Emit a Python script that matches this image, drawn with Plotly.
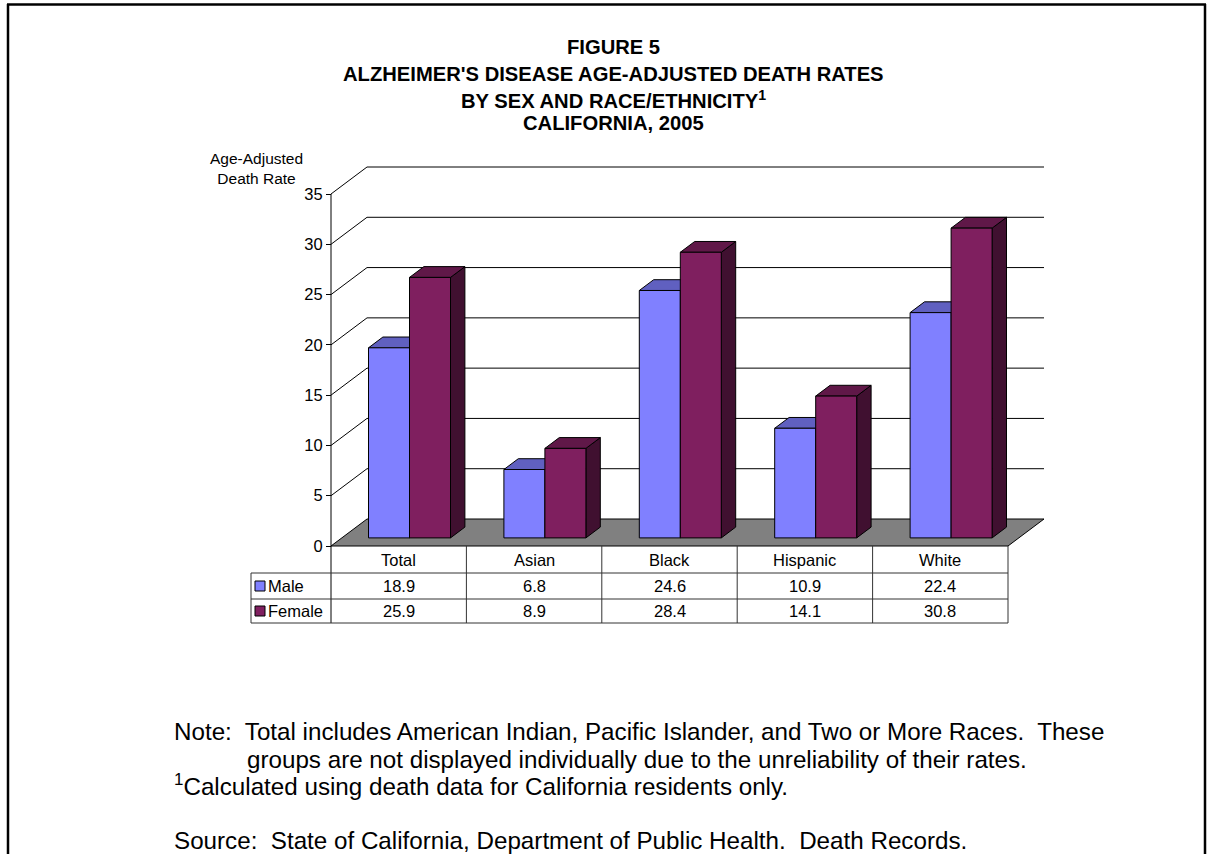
import plotly.graph_objects as go

# ---- data ----
categories = ["Total", "Asian", "Black", "Hispanic", "White"]
series_names = ["Male", "Female"]
male = [18.9, 6.8, 24.6, 10.9, 22.4]
female = [25.9, 8.9, 28.4, 14.1, 30.8]
y_ticks = [0, 5, 10, 15, 20, 25, 30, 35]

title_lines = [
    "FIGURE 5",
    "ALZHEIMER'S DISEASE AGE-ADJUSTED DEATH RATES",
    "BY SEX AND RACE/ETHNICITY<sup>1</sup>",
    "CALIFORNIA, 2005",
]
axis_title = "Age-Adjusted<br>Death Rate"
note_lines = [
    "Note:\u00a0 Total includes American Indian, Pacific Islander, and Two or More Races.\u00a0 These",
    "groups are not displayed individually due to the unreliability of their rates.",
    "<sup>1</sup>Calculated using death data for California residents only.",
    "Source:\u00a0 State of California, Department of Public Health.\u00a0 Death Records.",
]

# ---- colours ----
MALE_FRONT, MALE_TOP, MALE_SIDE = "#8080FF", "#6060C0", "#404080"
FEM_FRONT, FEM_TOP, FEM_SIDE = "#7F1F5F", "#601848", "#401030"
FLOOR = "#808080"
FONT = "Arial, Liberation Sans, sans-serif"

# ---- page geometry (pixels) ----
W, H = 1212, 854
X0_PX, X5_PX = 331, 1008      # front plane: category 0 .. 5
Y0_PX, Y35_PX = 546, 194      # front plane: value 0 .. 35
col_px = (X5_PX - X0_PX) / 5
unit_px = (Y0_PX - Y35_PX) / 35
x_range = [-X0_PX / col_px, (W - X0_PX) / col_px]
y_range = [(Y0_PX - H) / unit_px, Y0_PX / unit_px]

# oblique depth offset of the back wall, in data units
DX = 36 / col_px
DY = 27 / unit_px
BAR_W = 41 / col_px           # width of one bar
F0, F1 = 0.30, 0.70           # bar front / back depth fractions
N = len(categories)
VMAX = y_ticks[-1]

# table rows (in value units below zero)
ROW_PX = [27, 26, 24]
row_y = [0.0]
for r in ROW_PX:
    row_y.append(row_y[-1] - r / unit_px)
LEG_X = (251 - X0_PX) / col_px


def px_x(px):
    return px / W


def px_y(py):
    return 1 - py / H


def proj(x, v, d):
    return x + d * DX, v + d * DY


fig = go.Figure()


def poly(pts, fill, color="black", width=1):
    xs = [p[0] for p in pts] + [pts[0][0]]
    ys = [p[1] for p in pts] + [pts[0][1]]
    fig.add_trace(go.Scatter(
        x=xs, y=ys, mode="lines", fill="toself", fillcolor=fill,
        line=dict(color=color, width=width), hoverinfo="skip",
        showlegend=False))


def seg(pts, color="black", width=1):
    fig.add_trace(go.Scatter(
        x=[p[0] for p in pts], y=[p[1] for p in pts], mode="lines",
        line=dict(color=color, width=width), hoverinfo="skip",
        showlegend=False))


# back wall gridlines and left wall diagonals
for v in y_ticks[1:]:
    seg([proj(0, v, 0), proj(0, v, 1), proj(N, v, 1)])

# floor
poly([proj(0, 0, 0), proj(N, 0, 0), proj(N, 0, 1), proj(0, 0, 1)], FLOOR)

# front value axis line (continues down as the table's left border)
seg([(0, VMAX), (0, row_y[-1])])


def bar(xl, v, front, top, side):
    xr = xl + BAR_W
    poly([proj(xr, 0, F0), proj(xr, 0, F1), proj(xr, v, F1), proj(xr, v, F0)], side)
    poly([proj(xl, v, F0), proj(xr, v, F0), proj(xr, v, F1), proj(xl, v, F1)], top)
    poly([proj(xl, 0, F0), proj(xr, 0, F0), proj(xr, v, F0), proj(xl, v, F0)], front)


for i in range(N):
    c = i + 0.5
    bar(c - BAR_W, male[i], MALE_FRONT, MALE_TOP, MALE_SIDE)
    bar(c, female[i], FEM_FRONT, FEM_TOP, FEM_SIDE)

# ---- data table ----
TABLE_LINE = "#333333"
for k in range(1, len(row_y)):
    seg([(LEG_X, row_y[k]), (N, row_y[k])], TABLE_LINE)
for i in range(1, N + 1):
    seg([(i, 0), (i, row_y[-1])], TABLE_LINE)
seg([(LEG_X, row_y[1]), (LEG_X, row_y[-1])], TABLE_LINE)

annotations = []
tfont = dict(family=FONT, size=16.5, color="black")


def mid(k):
    return (row_y[k] + row_y[k + 1]) / 2


for i, cat in enumerate(categories):
    annotations.append(dict(x=i + 0.5, y=mid(0), xref="x", yref="y", text=cat,
                            showarrow=False, font=tfont, xanchor="center", yanchor="middle"))
for k, (name, vals, col) in enumerate([(series_names[0], male, MALE_FRONT),
                                        (series_names[1], female, FEM_FRONT)]):
    ym = mid(k + 1)
    for i, v in enumerate(vals):
        annotations.append(dict(x=i + 0.5, y=ym, xref="x", yref="y", text=f"{v:.1f}",
                                showarrow=False, font=tfont, xanchor="center", yanchor="middle"))
    fig.add_trace(go.Scatter(
        x=[(260 - X0_PX) / col_px], y=[ym], mode="markers",
        marker=dict(symbol="square", size=10, color=col, line=dict(color="black", width=1)),
        hoverinfo="skip", showlegend=False))
    annotations.append(dict(x=(266 - X0_PX) / col_px, y=ym, xref="x", yref="y", text=name,
                            showarrow=False, font=tfont, xanchor="left", yanchor="middle"))

# axis title
annotations.append(dict(x=px_x(256), y=px_y(168), xref="paper", yref="paper", text=axis_title,
                        showarrow=False, font=dict(family=FONT, size=15.5, color="black"),
                        xanchor="center", yanchor="middle", align="center"))

# figure title
for py, line in zip([47, 74, 99, 123], title_lines):
    annotations.append(dict(x=px_x(613), y=px_y(py), xref="paper", yref="paper",
                            text=f"<b>{line}</b>", showarrow=False,
                            font=dict(family=FONT, size=20.2, color="black"),
                            xanchor="center", yanchor="middle"))

# notes
for (px, py), line in zip([(172, 731), (245, 759), (172, 785), (172, 840)], note_lines):
    annotations.append(dict(x=px_x(px), y=px_y(py), xref="paper", yref="paper", text=line,
                            showarrow=False, font=dict(family=FONT, size=24.2, color="black"),
                            xanchor="left", yanchor="middle"))

# page frame (open at the bottom)
frame = [
    dict(type="line", xref="paper", yref="paper", x0=px_x(7), x1=px_x(1206),
         y0=px_y(4.5), y1=px_y(4.5), line=dict(color="black", width=2.5)),
    dict(type="line", xref="paper", yref="paper", x0=px_x(8), x1=px_x(8),
         y0=px_y(4), y1=0, line=dict(color="black", width=2.5)),
    dict(type="line", xref="paper", yref="paper", x0=px_x(1205), x1=px_x(1205),
         y0=px_y(4), y1=0, line=dict(color="black", width=2.5)),
]

fig.update_layout(
    width=W, height=H,
    margin=dict(l=0, r=0, t=0, b=0, pad=0),
    paper_bgcolor="white", plot_bgcolor="white",
    showlegend=False, hovermode=False,
    xaxis=dict(range=x_range, visible=False, fixedrange=True),
    yaxis=dict(range=y_range, anchor="free", position=X0_PX / W,
               tickmode="array", tickvals=y_ticks, ticktext=[str(t) for t in y_ticks],
               ticks="outside", ticklen=5, tickcolor="black", tickwidth=1,
               showline=False, showgrid=False, zeroline=False, fixedrange=True,
               tickfont=dict(family=FONT, size=16.5, color="black")),
    annotations=annotations,
    shapes=frame,
)

fig.write_html("out.html")
